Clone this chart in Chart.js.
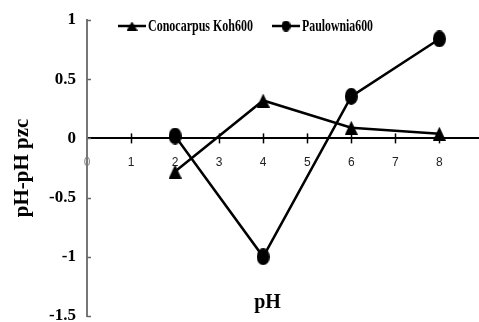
<!DOCTYPE html>
<html>
<head>
<meta charset="utf-8">
<script src="https://cdn.jsdelivr.net/npm/chart.js@4/dist/chart.umd.min.js"></script>
<style>
  html, body { margin: 0; padding: 0; background: #fff; }
  #wrap { width: 479px; height: 322px; position: relative; }
</style>
</head>
<body>
<div id="wrap"><canvas id="c"></canvas></div>
<script>
// pH values and the surface charge indicator (pH - pH pzc) for each sorbent
const phValues = [2, 4, 6, 8];
const conocarpusKoh600 = [-0.28, 0.32, 0.09, 0.04];
const paulownia600 = [0.02, -1.0, 0.355, 0.84];
const seriesLabels = ['Conocarpus Koh600', 'Paulownia600'];
const xTickValues = [0, 1, 2, 3, 4, 5, 6, 7, 8];
const yTickValues = [1, 0.5, 0, -0.5, -1, -1.5];
const xTitle = 'pH';
const yTitle = 'pH-pH pzc';

const SERIF = '"Liberation Serif", "Times New Roman", serif';

// marker images: filled triangle and filled oval
function triangleMark(w, h) {
  const c = document.createElement('canvas');
  c.width = w; c.height = h;
  const g = c.getContext('2d');
  g.fillStyle = '#000';
  g.beginPath();
  g.moveTo(w / 2, 0); g.lineTo(w, h); g.lineTo(0, h);
  g.closePath(); g.fill();
  return c;
}
function ovalMark(w, h) {
  const c = document.createElement('canvas');
  c.width = w; c.height = h;
  const g = c.getContext('2d');
  g.fillStyle = '#000';
  g.beginPath();
  g.ellipse(w / 2, h / 2, w / 2, h / 2, 0, 0, Math.PI * 2);
  g.fill();
  return c;
}

const triBig = triangleMark(13, 14), ovalBig = ovalMark(13, 17);
const triSmall = triangleMark(11, 9), ovalSmall = ovalMark(9, 11);

// tick marks crossing the zero line, inward ticks on the y axis, x title, legend
const decorations = {
  id: 'decorations',
  afterDraw(chart) {
    const { ctx, scales: { x, y } } = chart;
    const y0 = y.getPixelForValue(0);
    ctx.save();
    ctx.lineWidth = 1.5;
    ctx.strokeStyle = '#000';
    xTickValues.forEach(v => {
      if (v === 0) return;
      const px = Math.round(x.getPixelForValue(v)) + 0.5;
      ctx.beginPath(); ctx.moveTo(px, y0 - 5); ctx.lineTo(px, y0 + 5); ctx.stroke();
    });
    ctx.strokeStyle = '#666';
    yTickValues.forEach(v => {
      const py = Math.round(y.getPixelForValue(v)) + 0.5;
      ctx.beginPath(); ctx.moveTo(y.right, py); ctx.lineTo(y.right + 4, py); ctx.stroke();
    });

    // x axis title, placed low inside the plot
    ctx.fillStyle = '#000';
    ctx.font = 'bold 20px ' + SERIF;
    ctx.textAlign = 'center';
    ctx.textBaseline = 'middle';
    ctx.fillText(xTitle, x.getPixelForValue(4.1), y.getPixelForValue(-1.39));

    // legend row
    const items = [
      { x: 118, mark: triSmall, width: 105 },
      { x: 272, mark: ovalSmall, width: 71 }
    ];
    const ly = 26;
    ctx.font = 'bold 16px ' + SERIF;
    ctx.textAlign = 'left';
    chart.data.datasets.forEach((ds, i) => {
      const it = items[i];
      ctx.strokeStyle = '#000';
      ctx.lineWidth = 2.5;
      ctx.beginPath(); ctx.moveTo(it.x, ly); ctx.lineTo(it.x + 28, ly); ctx.stroke();
      ctx.drawImage(it.mark, it.x + 14 - it.mark.width / 2, ly - it.mark.height / 2);
      ctx.fillText(ds.label, it.x + 30, ly + 1, it.width);
    });
    ctx.restore();
  }
};

new Chart(document.getElementById('c'), {
  type: 'line',
  data: {
    datasets: [
      {
        label: seriesLabels[0],
        data: phValues.map((p, i) => ({ x: p, y: conocarpusKoh600[i] })),
        borderColor: '#000',
        borderWidth: 2.5,
        pointStyle: triBig,
        pointRadius: 7,
        tension: 0,
        clip: false
      },
      {
        label: seriesLabels[1],
        data: phValues.map((p, i) => ({ x: p, y: paulownia600[i] })),
        borderColor: '#000',
        borderWidth: 2.5,
        pointStyle: ovalBig,
        pointRadius: 7,
        tension: 0,
        clip: false
      }
    ]
  },
  options: {
    responsive: true,
    maintainAspectRatio: false,
    animation: false,
    layout: { autoPadding: false, padding: { top: 20, bottom: 6, left: 0, right: 0 } },
    plugins: { legend: { display: false }, tooltip: { enabled: false } },
    scales: {
      x: {
        type: 'linear',
        position: { y: 0 },
        min: 0,
        max: 8.9,
        afterBuildTicks: s => { s.ticks = xTickValues.map(v => ({ value: v })); },
        afterFit: s => { s.paddingLeft = 0; s.paddingRight = 0; },
        grid: { display: false, drawTicks: false },
        border: { display: true, color: '#000', width: 2 },
        ticks: {
          padding: 17,
          color: ctx => ctx.tick && ctx.tick.value === 0 ? '#888' : '#222',
          font: { family: '"Liberation Sans", Arial, sans-serif', size: 12 },
          maxRotation: 0,
          autoSkip: false
        }
      },
      y: {
        type: 'linear',
        position: 'left',
        min: -1.5,
        max: 1,
        afterBuildTicks: s => { s.ticks = yTickValues.map(v => ({ value: v })); },
        afterFit: s => { s.width = 87; s.paddingTop = 0; s.paddingBottom = 0; },
        grid: { display: false, drawTicks: false },
        border: { display: true, color: '#777', width: 2 },
        ticks: {
          padding: 11,
          color: '#000',
          font: { family: SERIF, size: 17, weight: 'bold' },
          callback: v => String(v)
        },
        title: {
          display: true,
          text: yTitle,
          color: '#000',
          font: { family: SERIF, size: 21, weight: 'bold' },
          padding: { top: 10, bottom: 0 }
        }
      }
    }
  },
  plugins: [decorations]
});
</script>
</body>
</html>
